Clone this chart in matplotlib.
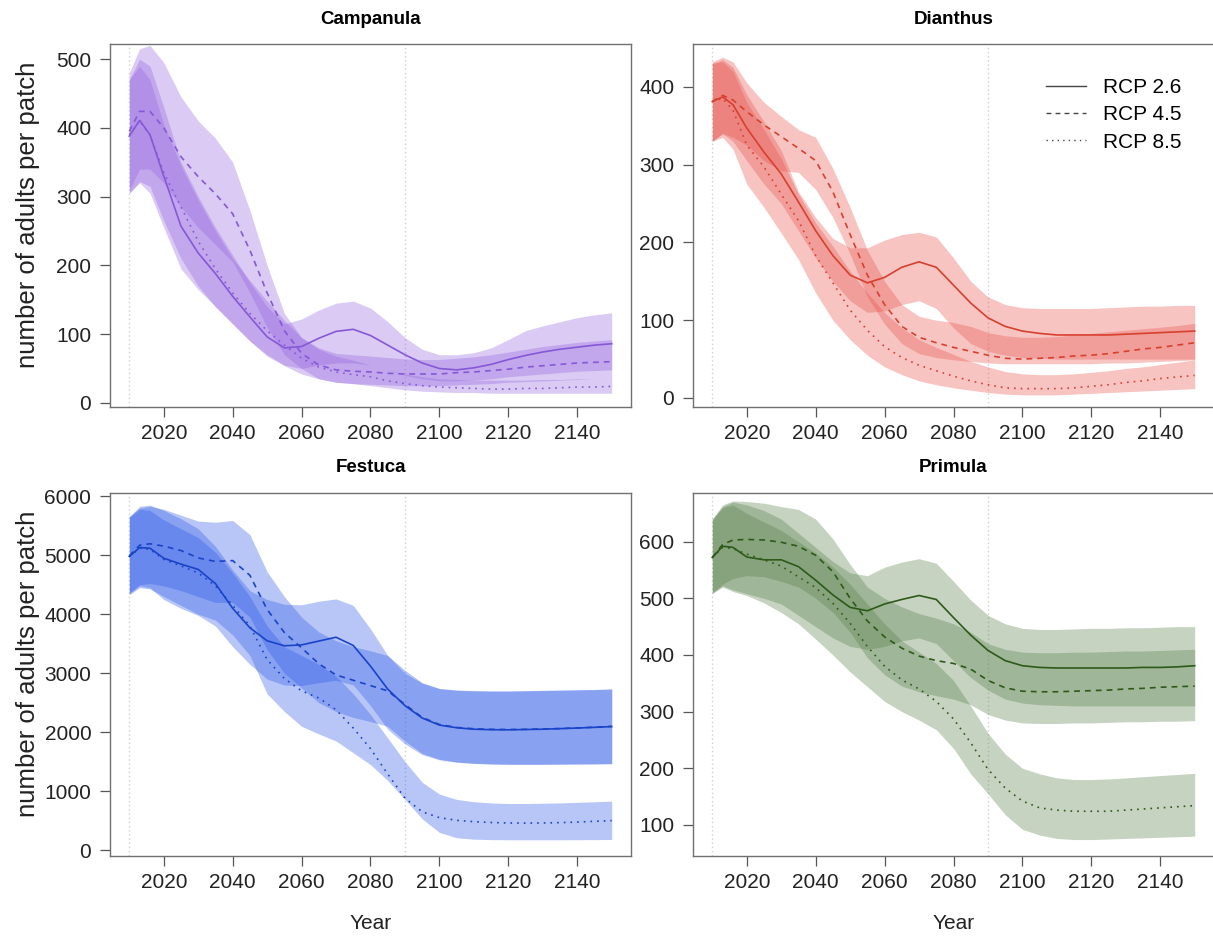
import matplotlib
matplotlib.use("Agg")
import matplotlib.pyplot as plt

plt.rcParams['font.family'] = ['Liberation Sans', 'DejaVu Sans']

YEARS = [2010, 2013, 2016, 2020, 2025, 2030, 2035, 2040, 2045, 2050, 2055, 2060, 2065, 2070,
         2075, 2080, 2085, 2090, 2095, 2100, 2105, 2110, 2115, 2120, 2125, 2130, 2135, 2140, 2145, 2150]
SCENARIOS = ["RCP 2.6", "RCP 4.5", "RCP 8.5"]
SPECIES = ["Campanula", "Dianthus", "Festuca", "Primula"]

# ---- Campanula ----
camp_26 = [388, 411, 390, 330, 257, 218, 188, 155, 125, 96, 80, 82, 94, 104, 107, 98, 84, 70, 58, 50, 48, 51, 56, 63, 69, 74, 78, 81, 84, 86]
camp_26_hi = [470, 500, 490, 430, 350, 300, 255, 215, 175, 140, 115, 122, 135, 145, 148, 138, 118, 95, 78, 70, 70, 73, 80, 92, 105, 112, 118, 124, 128, 131]
camp_26_lo = [305, 320, 305, 255, 195, 165, 140, 115, 90, 70, 55, 50, 55, 58, 58, 55, 48, 40, 35, 32, 32, 33, 35, 38, 40, 42, 44, 46, 47, 48]
camp_45 = [395, 424, 424, 400, 358, 329, 304, 275, 222, 160, 105, 72, 55, 48, 46, 45, 43, 42, 42, 42, 44, 45, 47, 49, 52, 54, 56, 58, 59, 60]
camp_45_hi = [480, 515, 520, 495, 445, 410, 385, 350, 280, 200, 130, 95, 80, 72, 70, 68, 66, 64, 63, 63, 65, 67, 70, 74, 78, 82, 85, 88, 90, 92]
camp_45_lo = [310, 340, 340, 320, 285, 255, 230, 205, 160, 110, 70, 50, 35, 30, 28, 27, 26, 25, 25, 25, 26, 27, 28, 30, 31, 32, 33, 34, 35, 36]
camp_85 = [390, 410, 390, 335, 285, 235, 195, 160, 130, 105, 84, 65, 52, 45, 41, 38, 32, 28, 25, 23, 22, 21, 20, 20, 21, 21, 22, 23, 23, 24]
camp_85_hi = [470, 490, 470, 405, 345, 295, 250, 210, 178, 148, 120, 95, 78, 68, 62, 55, 48, 42, 38, 35, 34, 33, 33, 33, 33, 34, 34, 35, 35, 36]
camp_85_lo = [305, 322, 315, 265, 210, 170, 140, 115, 90, 68, 54, 42, 35, 30, 28, 25, 22, 19, 17, 16, 15, 15, 14, 14, 14, 14, 14, 14, 14, 14]

# ---- Dianthus ----
dian_26 = [381, 387, 377, 347, 316, 288, 252, 215, 183, 158, 148, 155, 168, 175, 168, 145, 122, 103, 92, 86, 83, 81, 81, 81, 81, 82, 83, 84, 85, 86]
dian_26_hi = [430, 435, 425, 390, 355, 318, 265, 232, 205, 193, 193, 203, 210, 213, 207, 180, 150, 130, 120, 116, 115, 115, 115, 115, 116, 117, 118, 118, 119, 119]
dian_26_lo = [330, 340, 330, 305, 275, 250, 215, 180, 150, 125, 110, 112, 120, 125, 115, 90, 70, 60, 55, 52, 51, 50, 50, 50, 50, 50, 50, 50, 50, 50]
dian_45 = [381, 389, 383, 368, 351, 336, 321, 305, 265, 210, 158, 120, 92, 78, 71, 65, 60, 55, 51, 50, 51, 52, 54, 55, 57, 60, 63, 65, 68, 71]
dian_45_hi = [432, 438, 432, 405, 380, 362, 345, 335, 295, 245, 190, 150, 120, 105, 100, 97, 92, 84, 80, 78, 78, 79, 81, 83, 85, 87, 89, 91, 93, 96]
dian_45_lo = [330, 340, 335, 325, 305, 292, 290, 268, 232, 185, 130, 95, 70, 57, 52, 49, 47, 45, 44, 44, 44, 44, 44, 44, 45, 45, 46, 47, 48, 49]
dian_85 = [381, 385, 370, 325, 297, 262, 228, 183, 148, 113, 87, 66, 52, 42, 35, 28, 22, 17, 13, 12, 12, 12, 13, 15, 17, 20, 22, 25, 27, 29]
dian_85_hi = [430, 432, 420, 380, 345, 308, 262, 225, 195, 163, 135, 110, 90, 75, 65, 56, 47, 40, 34, 31, 30, 30, 31, 33, 35, 38, 40, 43, 46, 49]
dian_85_lo = [330, 335, 320, 275, 245, 212, 178, 135, 100, 75, 55, 40, 30, 22, 17, 13, 10, 7, 5, 4, 4, 4, 5, 6, 7, 8, 9, 10, 11, 12]

# ---- Festuca ----
fest_26 = [4980, 5130, 5120, 4950, 4850, 4760, 4520, 4100, 3770, 3550, 3465, 3480, 3545, 3610, 3470, 3120, 2730, 2450, 2240, 2120, 2075, 2050, 2042, 2040, 2045, 2050, 2060, 2070, 2082, 2095]
fest_26_hi = [5650, 5830, 5850, 5760, 5620, 5450, 5150, 4750, 4400, 4250, 4170, 4160, 4220, 4260, 4150, 3750, 3300, 3000, 2830, 2740, 2710, 2700, 2695, 2695, 2700, 2705, 2710, 2715, 2720, 2730]
fest_26_lo = [4350, 4480, 4450, 4250, 4100, 3980, 3800, 3450, 3150, 2900, 2800, 2790, 2840, 2880, 2800, 2450, 2050, 1800, 1620, 1530, 1490, 1470, 1460, 1455, 1455, 1455, 1458, 1460, 1462, 1465]
fest_45 = [4990, 5170, 5195, 5155, 5080, 4955, 4895, 4910, 4660, 4080, 3690, 3430, 3160, 2970, 2880, 2790, 2700, 2470, 2250, 2130, 2080, 2058, 2048, 2045, 2048, 2055, 2062, 2072, 2084, 2098]
fest_45_hi = [5660, 5800, 5830, 5780, 5680, 5580, 5560, 5590, 5350, 4720, 4300, 3950, 3700, 3550, 3450, 3380, 3300, 3050, 2840, 2740, 2715, 2705, 2700, 2700, 2705, 2710, 2715, 2720, 2725, 2735]
fest_45_lo = [4360, 4500, 4520, 4480, 4400, 4300, 4200, 4200, 3950, 3400, 3000, 2750, 2500, 2350, 2250, 2180, 2100, 1850, 1640, 1540, 1495, 1472, 1462, 1456, 1456, 1456, 1458, 1460, 1462, 1466]
fest_85 = [4980, 5120, 5100, 4930, 4820, 4700, 4480, 4150, 3800, 3230, 2910, 2700, 2580, 2380, 2070, 1720, 1290, 880, 650, 550, 505, 482, 468, 460, 458, 460, 466, 475, 488, 500]
fest_85_hi = [5640, 5780, 5760, 5600, 5450, 5300, 5050, 4700, 4300, 3800, 3450, 3300, 3150, 2950, 2650, 2300, 1900, 1500, 1150, 950, 860, 820, 800, 790, 790, 795, 800, 810, 820, 830]
fest_85_lo = [4330, 4450, 4430, 4300, 4150, 4000, 3900, 3650, 3300, 2650, 2350, 2100, 1970, 1850, 1650, 1450, 1180, 860, 530, 300, 210, 185, 178, 175, 175, 175, 175, 176, 178, 180]

# ---- Primula ----
prim_26 = [572, 592, 590, 573, 568, 568, 556, 532, 506, 484, 478, 490, 498, 505, 498, 466, 435, 408, 390, 381, 378, 377, 377, 377, 377, 377, 378, 378, 379, 381]
prim_26_hi = [640, 662, 670, 665, 655, 640, 615, 590, 565, 545, 540, 555, 564, 570, 562, 530, 497, 470, 455, 447, 445, 445, 446, 447, 447, 448, 448, 449, 450, 450]
prim_26_lo = [510, 522, 515, 508, 500, 490, 470, 450, 430, 415, 410, 415, 425, 430, 420, 390, 360, 338, 322, 315, 312, 311, 310, 310, 310, 310, 310, 310, 310, 310]
prim_45 = [572, 595, 603, 604, 603, 599, 592, 576, 547, 500, 460, 432, 412, 398, 390, 385, 375, 355, 342, 336, 335, 335, 336, 337, 338, 340, 341, 343, 344, 345]
prim_45_hi = [640, 665, 672, 671, 668, 662, 657, 640, 605, 560, 520, 500, 485, 473, 465, 455, 440, 420, 410, 405, 404, 404, 405, 405, 406, 407, 407, 408, 409, 410]
prim_45_lo = [510, 525, 535, 540, 538, 530, 520, 500, 475, 440, 395, 365, 345, 335, 328, 322, 312, 295, 285, 280, 279, 279, 280, 280, 281, 282, 282, 283, 283, 284]
prim_85 = [572, 590, 588, 578, 568, 557, 538, 519, 491, 456, 415, 380, 356, 340, 318, 287, 245, 198, 165, 142, 130, 126, 124, 124, 124, 126, 128, 130, 132, 134]
prim_85_hi = [638, 660, 665, 650, 635, 620, 600, 580, 555, 525, 490, 455, 425, 405, 385, 355, 310, 262, 225, 200, 190, 183, 180, 180, 181, 183, 185, 187, 189, 191]
prim_85_lo = [508, 520, 512, 505, 492, 475, 455, 428, 400, 370, 344, 318, 300, 285, 268, 235, 190, 155, 118, 92, 82, 76, 74, 74, 75, 76, 77, 78, 79, 80]

XTICKS = [2020, 2040, 2060, 2080, 2100, 2120, 2140]
YTICKS = {
    "Campanula": [0, 100, 200, 300, 400, 500],
    "Dianthus": [0, 100, 200, 300, 400],
    "Festuca": [0, 1000, 2000, 3000, 4000, 5000, 6000],
    "Primula": [100, 200, 300, 400, 500, 600],
}
YLIMS = {
    "Campanula": (-6, 522),
    "Dianthus": (-11.6, 455),
    "Festuca": (-100, 6056),
    "Primula": (45, 686),
}

DATA = {
    "Campanula": [(camp_26, camp_26_lo, camp_26_hi), (camp_45, camp_45_lo, camp_45_hi), (camp_85, camp_85_lo, camp_85_hi)],
    "Dianthus": [(dian_26, dian_26_lo, dian_26_hi), (dian_45, dian_45_lo, dian_45_hi), (dian_85, dian_85_lo, dian_85_hi)],
    "Festuca": [(fest_26, fest_26_lo, fest_26_hi), (fest_45, fest_45_lo, fest_45_hi), (fest_85, fest_85_lo, fest_85_hi)],
    "Primula": [(prim_26, prim_26_lo, prim_26_hi), (prim_45, prim_45_lo, prim_45_hi), (prim_85, prim_85_lo, prim_85_hi)],
}
BAND_COLORS = {"Campanula": "#9466e0", "Dianthus": "#e8524c", "Festuca": "#2e5ae8", "Primula": "#59804a"}
LINE_COLORS = {"Campanula": "#8758d6", "Dianthus": "#d8402e", "Festuca": "#1a44c8", "Primula": "#2c5a18"}
LINESTYLES = ["-", (0, (3.5, 3)), (0, (1, 3))]

W, H = 1213, 938
fig = plt.figure(figsize=(W / 100, H / 100), dpi=100)

boxes = {
    "Campanula": (110, 44, 631, 407),
    "Dianthus": (693, 44, 1214, 407),
    "Festuca": (110, 493, 631, 856),
    "Primula": (693, 493, 1214, 856),
}

def fx(px):
    return px / W

def fy(py):
    return 1 - py / H

for sp in SPECIES:
    x0, y0, x1, y1 = boxes[sp]
    ax = fig.add_axes([fx(x0), fy(y1), (x1 - x0) / W, (y1 - y0) / H])
    ax.set_xlim(2004.4, 2155.6)
    ax.set_ylim(*YLIMS[sp])
    for v in (2010, 2090):
        ax.axvline(v, color="#d0d0d0", lw=1, ls=(0, (1, 2)), zorder=0)
    for (m, lo, hi) in DATA[sp]:
        ax.fill_between(YEARS, lo, hi, color=BAND_COLORS[sp], alpha=0.34, lw=0, zorder=1)
    for (m, lo, hi), ls in zip(DATA[sp], LINESTYLES):
        ax.plot(YEARS, m, color=LINE_COLORS[sp], lw=1.2, ls=ls, zorder=3)
    ax.set_xticks(XTICKS)
    ax.set_yticks(YTICKS[sp])
    ax.tick_params(axis="both", direction="out", length=7, width=0.9, color="#555555",
                   labelsize=15, labelcolor="#222222")
    ax.tick_params(axis="x", pad=5.5)
    ax.tick_params(axis="y", pad=6.5)
    for s in ax.spines.values():
        s.set_color("#707070")
        s.set_linewidth(1.0)
    fig.text(fx((x0 + x1) / 2), fy(y0 - 25), sp, fontsize=13.5, fontweight="bold",
             ha="center", va="center")
    if sp in ("Campanula", "Festuca"):
        fig.text(fx(28), fy((y0 + y1) / 2 - 11), "number of adults per patch", fontsize=18.5,
                 rotation=90, ha="center", va="center", color="#222222")
    if sp in ("Festuca", "Primula"):
        fig.text(fx((x0 + x1) / 2), fy(923), "Year", fontsize=15, ha="center", va="center",
                 color="#222222")
    if sp == "Dianthus":
        handles = [plt.Line2D([], [], color="#444444", lw=1, ls=ls) for ls in LINESTYLES]
        fig.legend(handles, SCENARIOS, loc="upper left", bbox_to_anchor=(fx(1046), fy(78)),
                   bbox_transform=fig.transFigure, frameon=False, fontsize=15,
                   handlelength=1.9, handletextpad=0.85, labelspacing=0.4,
                   borderpad=0, borderaxespad=0)

fig.savefig("out.png", dpi=100)
